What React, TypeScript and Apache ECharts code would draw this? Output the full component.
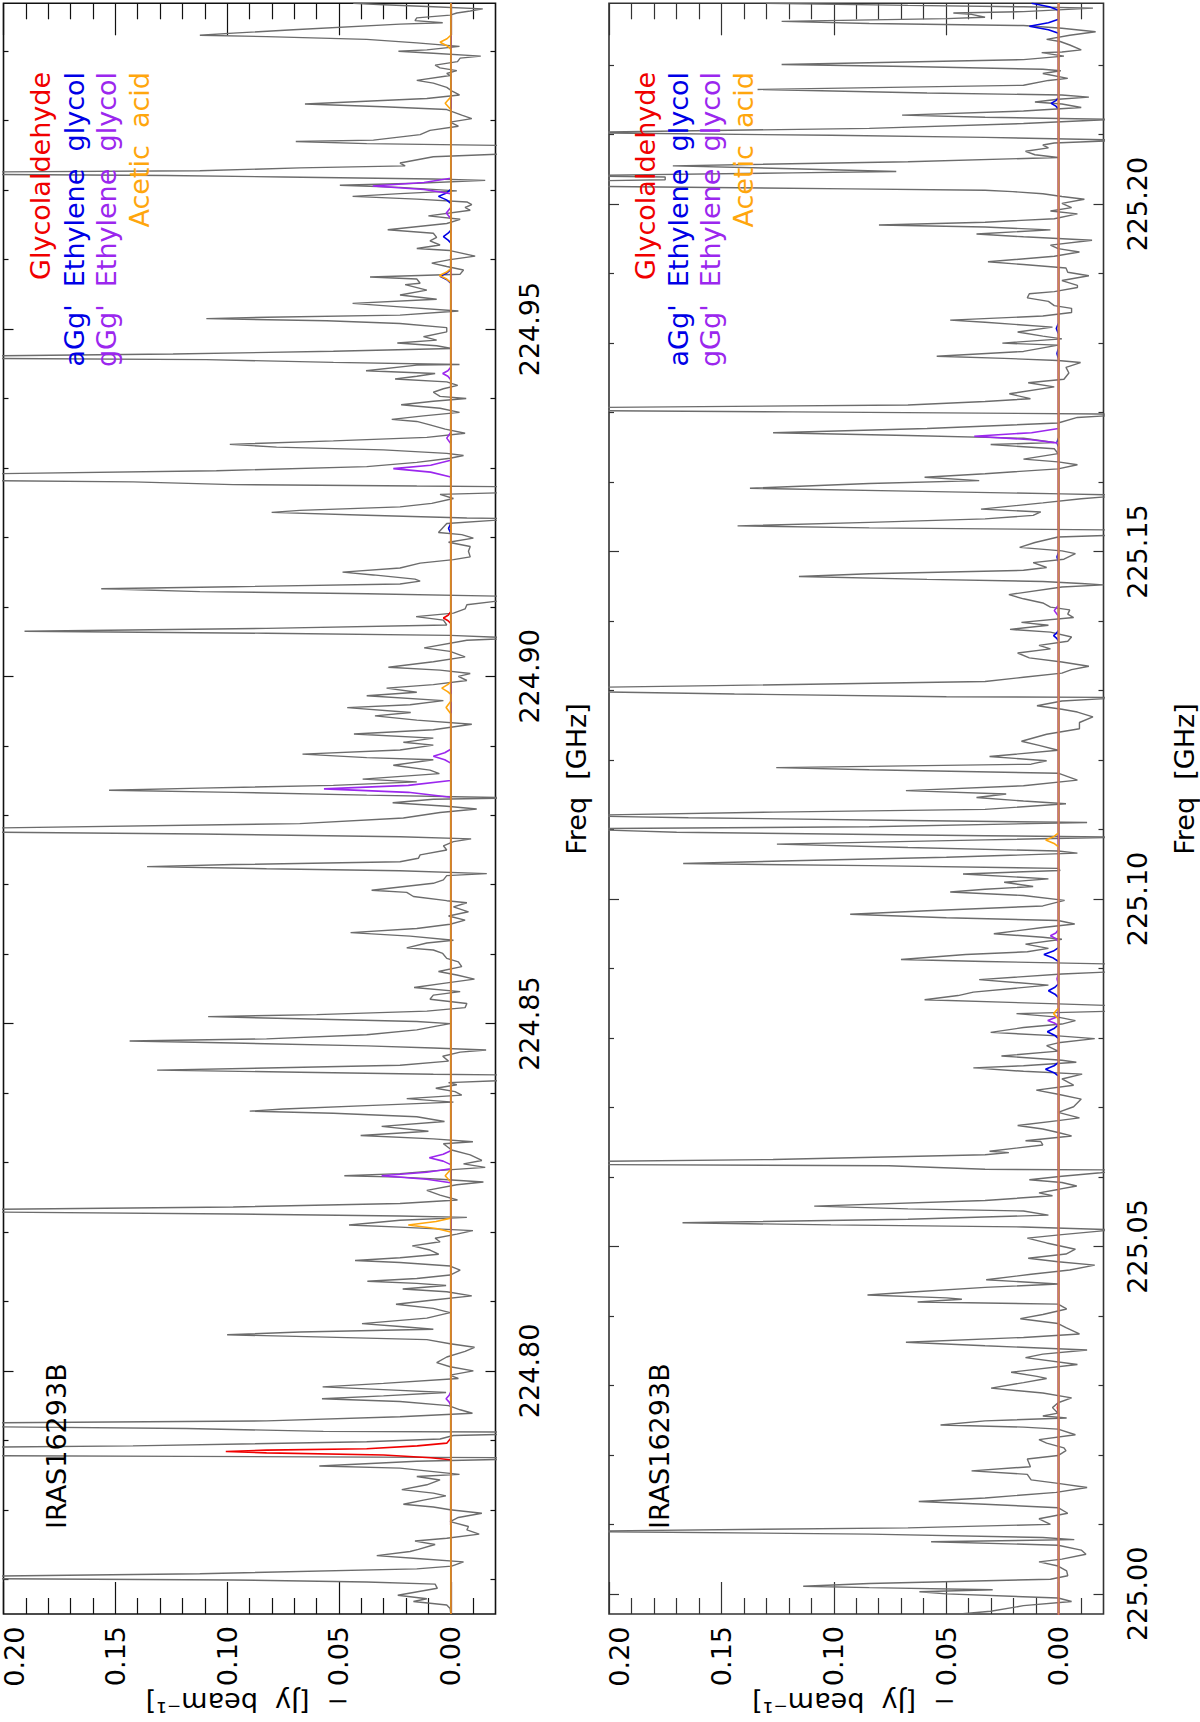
import React, { useEffect, useRef } from "react";
import * as echarts from "echarts";

// Frequencies in the spectra below are offsets in GHz from the panel's base frequency.
const baseA = 224;
const baseB = 225;
const rangeA = [224.765, 224.9969];
const rangeB = [224.9971, 225.2289];

const fluxMajor = [0, 0.05, 0.1, 0.15, 0.2];
const fluxLabels = [0, 0.05, 0.1, 0.15];
const fluxMinor = [-0.01, 0.01, 0.02, 0.03, 0.04, 0.06, 0.07, 0.08, 0.09, 0.11, 0.12, 0.13, 0.14, 0.16, 0.17, 0.18, 0.19];
const freqMajorA = [224.8, 224.85, 224.9, 224.95];
const freqMinorA = [224.77, 224.78, 224.79, 224.81, 224.82, 224.83, 224.84, 224.86, 224.87, 224.88, 224.89, 224.91, 224.92, 224.93, 224.94, 224.96, 224.97, 224.98, 224.99];
const freqMajorB = [225.0, 225.05, 225.1, 225.15, 225.2];
const freqMinorB = [225.01, 225.02, 225.03, 225.04, 225.06, 225.07, 225.08, 225.09, 225.11, 225.12, 225.13, 225.14, 225.16, 225.17, 225.18, 225.19, 225.21, 225.22];

const spectrumA = [
[.9969,.0436],[.9967,.03],[.9964,.0078],[.9961,-.0143],[.9958,-.0087],[.9955,-.0027],[.9952,.0003],[.9948,.0152],[.9944,.016],[.9941,.0036],[.9939,.0227],[.9931,.0704],[.9926,.0973],[.9923,.1122],[.9921,.0824],[.9917,.0376],[.9912,.0152],[.9907,-.0039],[.9902,.0107],[.99,.0234],[.9897,.0078],[.9893,-.0134],[.989,-.0042],[.9885,-.003],[.988,.007],[.9876,.0048],[.9872,-.0027],[.9868,.0018],[.9865,.0003],[.9858,.0152],[.9854,.0078],[.9848,.0018],[.9843,-.0004],[.9837,-.0039],[.9832,.0107],[.9824,.0652],[.982,.0301],[.9816,.0018],[.9808,-.0049],[.9803,-.0094],[.9798,.0003],[.9792,-.0034],[.9786,.0093],[.978,.0137],[.9772,.0346],[.977,.0693],[.9767,.0376],[.9764,-.03],[.9753,-.03],[.9748,.0078],[.9739,.0227],[.9735,.0204],[.9732,.0675],[.9728,.1122],[.9726,.22],[.9723,.22],[.9721,.127],[.9719,.0749],[.9716,.0078],[.9714,-.0154],[.971,.0152],[.9707,.0496],[.9704,.0227],[.9699,-.0027],[.9695,.0227],[.9691,.0439],[.9687,.0152],[.9683,-.0072],[.9679,-.0094],[.9675,-.0064],[.9671,-.0087],[.9663,.01],[.9658,-.0042],[.9652,.0018],[.9643,.0282],[.9638,.0078],[.9632,.0063],[.9627,.0093],[.9621,.0048],[.9616,.0152],[.9613,.0003],[.9605,-.0109],[.96,.0003],[.9595,.0085],[.959,.0018],[.9585,-.0057],[.9579,-.0042],[.9575,.0361],[.9572,.0152],[.9566,.0137],[.9564,.0204],
[.9556,.0107],[.9549,.0227],[.9543,.0063],[.9537,.0439],[.9532,.0227],[.9526,-.0034],[.952,.0227],[.9517,.0824],[.9515,.1093],[.9512,.0555],[.9508,.0227],[.9502,.0018],[.9496,.0018],[.9489,.0122],[.9484,.0063],[.948,.0239],[.9476,.0063],[.9472,-.0004],[.9468,.0525],[.9464,.1242],[.9461,.22],[.9458,.22],[.9456,.1093],[.9452,.0525],[.9449,-.0039],[.9448,.0152],[.944,.0379],[.9436,.007],[.9432,.0152],[.9428,.0249],[.9424,.0018],[.9419,-.0031],[.9414,.0033],[.9409,.0078],[.9403,.0048],[.94,-.0069],[.9396,.0078],[.9391,.0222],[.9386,.0048],[.938,-.0039],[.9375,.0122],[.937,.0264],[.9367,.0152],[.9362,.0093],[.9356,.0025],[.935,-.0064],[.9344,.0107],[.9339,.0525],[.9334,.0988],[.933,.0779],[.9326,.0301],[.9321,.0018],[.9318,-.0057],[.9314,.0003],[.9308,.0152],[.9302,.0376],[.9296,.1048],[.9291,.22],[.9282,.22],[.928,.1421],[.9276,.0973],[.9274,.0152],[.9273,-.03],[.9265,-.03],[.9262,.0048],[.9256,-.0012],[.9249,.0085],[.9244,.0227],[.9239,.0675],[.9236,.0801],[.9232,.0376],[.9228,-.0072],[.9227,-.03],[.922,.0018],[.9207,.0055],[.9204,-.0049],[.9199,-.0101],[.9193,.001],[.9187,-.0087],[.918,-.0079],[.9172,-.0087],[.9168,-.0012],[.9163,.0137],[.9156,.0227],
[.915,.0484],[.9146,.0346],[.914,.016],[.9137,.0137],[.9133,.0227],[.9129,.0973],[.9126,.1563],[.9122,.1122],[.9119,.0376],[.9115,-.03],[.9112,-.03],[.9103,-.0072],[.9097,-.0064],[.9091,-.0012],[.9086,.0155],[.9081,.0033],[.9074,.0018],[.9069,.0824],[.9065,.1906],[.9062,.0824],[.9059,.0003],[.9055,-.03],[.9052,-.0072],[.9041,.0119],[.9036,.0003],[.9028,-.0064],[.9021,.0078],[.9013,.0279],[.9009,.0048],[.9004,-.0087],[.9,-.0034],[.8994,-.0072],[.8988,.0078],[.8983,.0287],[.8977,.0152],[.8972,.0376],[.8965,.0033],[.8959,.0182],[.8955,.0463],[.8948,.0179],[.8943,.0339],[.8937,.0152],[.8931,-.0094],[.8923,.0078],[.8917,.0433],[.8911,.0078],[.8905,.0212],[.8901,.0078],[.8894,.0227],[.8888,.0663],[.8883,.0376],[.888,.0078],[.8872,.0257],[.8865,.0093],[.886,.0051],[.8852,.0394],[.8848,.0152],[.8843,.0525],[.8839,.1122],[.8836,.1528],[.8833,.0973],[.8829,.0376],[.8825,-.03],[.8823,.0078],[.8818,.026],[.8813,.0018],[.8809,-.0116],[.8804,.0048],[.8796,.0212],[.8788,.0675],[.8781,.22],[.8776,.22],[.8773,.1122],[.8769,.0227],[.8766,-.0091],[.8762,-.0012],[.8756,.0033],[.875,.0018],[.8743,.0137],
[.8738,.0145],[.8733,.0227],[.8729,.0973],[.8726,.1358],[.8723,.0824],[.872,.0227],[.8716,-.0161],[.8713,.0018],[.8707,.0033],[.8702,.0078],[.8692,.0354],[.8689,.0197],[.8683,.0167],[.8677,.0018],[.8674,-.0072],[.8668,-.0012],[.8661,-.0079],[.8655,.001],[.8649,-.0064],[.8643,.0003],[.8637,.0152],[.8631,.0448],[.8626,.0182],[.862,-.0012],[.8616,.0107],[.8609,.0197],[.8606,.0078],[.8601,.0036],[.8594,.0018],[.8589,-.0034],[.8582,-.0049],[.8575,.0055],[.857,-.0027],[.8564,-.0106],[.8558,.0033],[.8552,.0164],[.8546,-.0042],[.8541,.0078],[.8535,.0093],[.8529,-.0072],[.8523,-.0064],[.8518,.0107],[.8513,.06],[.851,.1085],[.8507,.0675],[.8503,.0152],[.85,.0003],[.8496,.007],[.8491,.0152],[.8484,.0376],[.8478,.0824],[.8475,.1436],[.8472,.0973],[.8468,.0376],[.8465,.0078],[.8462,-.0158],[.8459,-.0042],[.8453,.0036],[.8446,.001],[.844,.0227],[.8436,.0824],[.8433,.1313],[.843,.0675],[.8427,.0078],[.8426,-.03],[.8419,-.03],[.8415,.001],[.8412,-.0027],[.8407,.0067],[.8402,-.0019],[.8397,-.0049],[.8392,.0197],[.8387,-.0012],[.8382,.0376],[.8377,.0749],[.8374,.0899],[.8371,.0525],[.8366,.0152],[.8359,.0028],[.8352,.0309],[.8345,.01],[.8339,.0403],[.8334,.0078],[.833,-.0099],
[.8327,.0033],[.8318,-.0004],[.8311,-.0087],[.8303,-.0139],[.8298,-.0057],[.8293,-.0154],[.8288,.0078],[.8284,.0227],[.8281,.0476],[.8279,.0227],[.8276,.0048],[.8272,-.0146],[.8268,-.0027],[.826,.0107],[.8253,.0048],[.8246,-.003],[.8241,.0227],[.8236,.0973],[.8232,.22],[.8229,.22],[.8226,.0973],[.8223,.0227],[.8221,-.0072],[.8217,.0227],[.821,.0455],[.8207,.0227],[.8202,-.0099],[.8197,-.0027],[.8191,.007],[.8186,.0048],[.818,.0172],[.8174,.0093],[.8168,.0054],[.8163,.0227],[.8159,.0428],[.8156,.0227],[.8151,.0003],[.8145,-.0042],[.8138,.0003],[.8133,.0152],[.8129,.0373],[.8126,.0152],[.8123,.0021],[.8118,.0215],[.8114,.0018],[.8108,-.0094],[.8102,.0078],[.8096,.0245],[.809,.0078],[.8084,.0003],[.8076,.0107],[.8068,.0397],[.8064,.0227],[.806,.0078],[.8056,.0675],[.8052,.1],[.8049,.06],[.8045,.0107],[.8039,.0003],[.8034,-.0106],[.8028,-.0064],[.802,.0018],[.8012,.0063],[.8006,.0003],[.8,-.0101],[.7994,.0003],[.7989,-.0034],[.7982,.0301],[.7977,.0573],[.7972,.0227],[.7969,.0021],[.7964,.0301],[.796,.0576],[.7956,.0227],[.795,.001],[.7944,-.0042],[.7939,-.0097],[.7934,.0227],[.7928,.0824],[.7925,.22],
[.792,.22],[.7917,.1182],[.7913,.057],[.7912,-.03],[.7909,-.03],[.7907,-.0012],[.7902,.0048],[.7898,.0376],[.7892,.1421],[.789,.22],[.7878,.22],[.7877,.1182],[.7875,-.03],[.7873,-.03],[.787,.0152],[.7863,.0588],[.786,.0227],[.7851,-.0039],[.7848,.0152],[.7843,.0048],[.7836,.0107],[.7829,.0219],[.7824,.0078],[.782,.0022],[.7814,.0122],[.7808,.0212],[.7804,.0078],[.78,.0003],[.7795,-.0139],[.7789,-.0034],[.7783,.0003],[.7776,-.0079],[.7771,-.0072],[.7765,-.0127],[.7759,.0018],[.7755,.016],[.775,.007],[.7743,.0145],[.774,.0182],[.7734,.0331],[.773,.0152],[.7725,-.0057],[.7719,-.0004],[.7715,.0152],[.7708,.1122],[.7704,.22],[.7701,.22],[.7699,.0973],[.7696,.0376],[.7693,.007],[.7687,.006],[.7677,.0237],[.7672,.0107],[.7668,.0167],[.7663,.0018],[.7658,.0003],[.7651,0],
];

const spectrumB = [
[.2289,.1301],[.2286,.067],[.2284,.0156],[.2282,-.0153],[.2277,.0156],[.2275,.0468],[.2273,.0387],[.2269,.0327],[.2267,.0499],[.2263,.1232],[.226,.0842],[.2257,.0156],[.2253,-.0015],[.2248,-.0165],[.2243,-.005],[.2237,.0053],[.2234,-.0007],[.2229,-.005],[.2222,-.0101],[.2219,-.0015],[.2218,.0075],[.2213,-.0024],[.2208,.0156],[.2201,.1232],[.2198,.067],[.2194,.007],[.2192,-.001],[.2188,.007],[.2181,-.0041],[.2178,.0045],[.2171,.0156],[.2165,.1339],[.216,.0585],[.2157,-.0015],[.2154,-.0135],[.2151,.0002],[.2147,.0105],[.2144,-.0015],[.2139,-.0101],[.2134,.0156],[.2128,.0696],[.2125,.0327],[.2122,-.025],[.2116,.0156],[.2109,.0842],[.2103,.22],[.2099,.1013],[.2096,.0327],[.2092,-.03],[.2088,.0019],[.2085,.007],[.2081,.0045],[.2076,.0147],[.2071,.0105],[.2067,.0002],[.2061,.067],[.2055,.1716],[.2051,.1184],[.2047,.0722],[.2045,.1184],[.2041,.22],[.2039,.175],[.2035,.175],[.2033,.22],[.2026,.22],[.2022,.0927],[.202,.0327],[.2018,.0204],[.2015,.007],[.2011,-.0015],[.2007,-.0115],[.2001,-.0015],[.1995,-.0058],[.199,.0036],[.1986,-.0084],[.1979,.0019],[.1974,.0327],[.197,.0799],[.1967,.0327],[.1963,.0036],[.1957,.0365],[.1953,.0156],[.1948,-.0149],[.1941,.0036],[.1936,.0002],[.1931,-.0093],[.1925,.0019],[.1917,.0314],[.1913,.0156],[.1908,-.0033],[.1902,-.0041],[.1897,-.0135],[.189,-.0015],[.1883,-.0084],
[.188,-.0084],[.1874,.0019],[.1871,.013],[.1865,.0139],[.186,.0045],[.1854,.0019],[.185,-.0058],[.1844,-.0058],[.1839,.007],[.1833,.0482],[.183,.0327],[.1823,.0027],[.1816,.0182],[.181,.007],[.1806,-.0015],[.18,.025],[.1797,.0002],[.1788,.0156],[.1781,.0542],[.1778,.0242],[.1775,.0002],[.1772,-.0098],[.1765,-.0033],[.1757,-.0046],[.1748,-.0024],[.1743,.0135],[.1737,.0019],[.1727,.0219],[.172,.0125],[.1716,.0327],[.1711,.067],[.1707,.22],[.1703,.22],[.1701,.1184],[.1698,-.0187],[.1697,-.03],[.1693,-.0084],[.1685,.0002],[.1677,.0585],[.1671,.127],[.1667,.067],[.1663,.0156],[.1657,.0019],[.1654,.0302],[.1648,.0019],[.1641,.0002],[.1633,.0156],[.1629,.0002],[.1625,-.0084],[.1619,.0002],[.1612,.0327],[.1607,.0596],[.1602,.0353],[.1598,.0842],[.1591,.1373],[.1587,.067],[.1583,-.0015],[.1581,-.03],[.1576,-.0101],[.157,.007],[.1561,.0345],[.1557,.0079],[.1552,.0113],[.1547,.0327],[.1542,.0842],[.1537,.1428],[.1534,.0842],[.1531,-.03],[.1524,-.03],[.1521,.0002],[.1513,.0105],[.1506,.0173],[.1501,-.0015],[.1497,-.0075],[.1489,-.0024],[.1484,.0113],[.1477,.0053],[.1473,.0156],[.1468,.0842],
[.1464,.1155],[.146,.0585],[.1457,.007],[.1454,-.0101],[.1452,-.02],[.1449,-.0015],[.1438,.0221],[.1432,.0156],[.1426,.007],[.142,.0036],[.1416,-.005],[.141,-.0041],[.1405,-.0067],[.1398,.0165],[.1394,.0045],[.1388,.0216],[.1384,.0036],[.1377,-.0058],[.1371,-.0041],[.1365,.0087],[.136,.0036],[.1354,.0182],[.1347,.013],[.1341,-.0015],[.1335,-.0135],[.133,-.0058],[.1325,-.0015],[.1319,.0156],[.1313,.0327],[.1307,.1527],[.1304,.22],[.1299,.22],[.1295,.1442],[.1291,.0499],[.129,-.03],[.1285,-.0015],[.1278,.0096],[.1273,-.0015],[.1269,-.0084],[.1262,-.0153],[.1254,-.0093],[.1245,-.0093],[.1237,.0053],[.1227,.0165],[.1221,.0087],[.1214,.0002],[.1205,.0307],[.1199,.0053],[.1194,.0122],[.1189,.1256],[.1186,.0842],[.1181,.0002],[.1176,-.0041],[.1171,-.0084],[.1163,.0156],[.1156,.0679],[.1151,.0233],[.1146,.0365],[.1141,.0156],[.1137,-.0033],[.1129,.0327],[.1125,.127],[.112,.22],[.1117,.1647],[.1113,.067],[.111,-.0127],[.1104,.0842],[.1101,.22],[.1096,.1699],[.1091,.0327],[.1089,-.03],[.1085,.0327],[.1079,.1253],[.1074,.067],[.1069,.0002],[.1066,-.0084],[.106,.0499],
[.1055,.1184],[.1051,.167],[.1048,.0842],[.1044,.0002],[.1041,-.0007],[.1036,.0425],[.1029,.0045],[.1024,.0242],[.1018,.0113],[.1014,.0327],[.101,.0482],[.1005,.0156],[.0998,-.0027],[.099,.007],[.0983,.0585],[.0978,.0927],[.0973,.0499],[.0969,.0002],[.0964,-.0072],[.0959,.007],[.095,.0288],[.0945,.007],[.0942,-.0015],[.0935,.0147],[.0929,.0045],[.0924,.0139],[.092,.0413],[.0913,.0701],[.091,.0327],[.0906,-.03],[.0896,-.03],[.0892,-.0015],[.0884,.0353],[.0876,.0045],[.0866,.0379],[.0861,.0447],[.0855,.0596],[.0849,.0002],[.0846,-.03],[.0839,-.03],[.0835,.0187],[.083,.0002],[.0825,-.0075],[.082,-.0015],[.0815,.0156],[.0808,.0302],[.0803,.0002],[.0799,-.0161],[.0793,.0002],[.0789,.0053],[.0781,.0002],[.0774,.0254],[.0768,-.0015],[.0765,-.0079],[.076,.0156],[.0757,.0379],[.0752,.0156],[.0748,-.0105],[.0741,-.0015],[.0732,-.0067],[.0725,.0099],[.0719,.0002],[.0712,-.0101],[.0701,-.0067],[.0693,.0002],[.0685,-.0093],[.0681,.0002],[.0674,.0182],[.0669,.007],[.0664,.0002],[.0659,-.0058],[.0652,.0147],
[.0651,.0079],[.0646,.007],[.0637,.0307],[.0635,.0221],[.0632,.0327],[.0625,.127],[.0622,.22],[.0618,.22],[.0616,.0756],[.0611,.0327],[.061,-.03],[.0606,-.0187],[.0601,-.0015],[.0596,.013],[.0592,-.0015],[.0587,-.0081],[.0582,.0002],[.0577,.0087],[.0573,.0027],[.0566,.0327],[.0558,.1087],[.0554,.067],[.0551,.0156],[.0545,.0045],[.0539,.067],[.0534,.1673],[.0531,.1013],[.0528,.0156],[.0524,-.025],[.0517,-.0015],[.0512,.0139],[.0505,.0053],[.0496,-.0075],[.0489,-.0033],[.0483,.0135],[.0478,.0002],[.0473,-.0161],[.0466,-.005],[.046,.0122],[.0452,.0322],[.0446,.0002],[.0441,.0327],[.0434,.067],[.043,.085],[.0426,.0499],[.0424,.043],[.042,.0627],[.0417,.0002],[.041,-.0036],[.0402,.007],[.0396,.017],[.0389,.0002],[.0383,-.0033],[.0374,-.0093],[.0369,.0156],[.0362,.0679],[.0357,.0327],[.0351,-.0127],[.0345,.007],[.034,.0147],[.033,-.0084],[.0319,.0211],[.0313,.0096],[.031,.0053],[.0304,.0156],[.0296,.03],[.0289,.007],[.0282,-.0058],[.0275,.0002],[.0268,.0027],[.026,.0002],[.0256,.007],[.0253,-.0036],[.0249,.0327],[.0243,.0525],
[.024,.0156],[.0237,.0002],[.0229,-.0075],[.0222,.0087],[.0217,.0053],[.021,-.0024],[.0206,-.0033],[.0199,.0002],[.0194,.0139],[.0183,.0125],[.0177,.0387],[.0172,.0139],[.0164,.0122],[.0159,.0002],[.0153,-.0127],[.0146,.001],[.0138,.0327],[.0133,.0622],[.0129,.0327],[.0124,.0002],[.0116,-.0041],[.0108,.0087],[.01,.0036],[.0095,.067],[.009,.22],[.0086,.0842],[.0081,.007],[.0078,-.007],[.0075,.0567],[.007,.0002],[.0063,-.0101],[.0057,-.0122],[.005,-.0015],[.0046,.0087],[.004,.0002],[.0033,-.0036],[.0026,-.0041],[.0021,.0036],[.0015,.0842],[.0011,.1136],[.0009,.0842],[.0006,.0293],[.0003,.0619],[0,.0499],[-.0006,.0002],[-.0011,-.0058],[-.0017,.0156],[-.0025,.0302],[-.0029,.0439],
];

const glycolaldehydeA = [[.765,0],[.7872,0],[.7875,.009],[.7879,.03],[.7882,.0824],[.7884,.1006],[.7886,.0824],[.7888,.0376],[.7892,.015],[.7896,.0018],[.7903,0],[.9076,0],[.908,.0012],[.9084,.0033],[.9088,.0012],[.9093,0],[.9969,0]];
const aGgA = [[.765,0],[.9206,0],[.9213,.001],[.922,0],[.9566,0],[.9571,.0017],[.9576,.0048],[.9581,.0017],[.9586,0],[.9624,0],[.9628,.0012],[.9633,.0033],[.9638,.0012],[.9642,0],[.9681,0],[.9686,.0019],[.9691,.0055],[.9696,.0019],[.9701,0],[.9969,0]];
const gGgA = [[.765,0],[.795,0],[.7955,.0007],[.796,.0021],[.7965,.0007],[.797,0],[.8271,0],[.8276,.0108],[.8281,.0309],[.8286,.0108],[.8291,0],[.8297,0],[.8302,.0034],[.8307,.0096],[.8312,.0034],[.8317,0],[.8826,0],[.8833,.019],[.8838,.0567],[.8843,.019],[.885,0],[.8875,0],[.888,.0027],[.8885,.0078],[.889,.0027],[.8895,0],[.9287,0],[.9294,.009],[.9299,.0257],[.9304,.009],[.9311,0],[.9335,0],[.9343,.0018],[.9351,0],[.9427,0],[.9432,.0013],[.9436,.0036],[.944,.0013],[.9445,0],[.9659,0],[.9667,.002],[.9675,0],[.9695,0],[.9701,.012],[.9706,.0349],[.9711,.012],[.9717,0],[.9969,0]];
const aceticA = [[.765,0],[.82,0],[.8205,.0066],[.821,.019],[.8215,.0066],[.822,0],[.8272,0],[.8281,.0025],[.829,0],[.8946,0],[.8955,.0021],[.8964,0],[.8974,0],[.8978,.0014],[.8983,.004],[.8988,.0014],[.8992,0],[.9567,0],[.9572,.0018],[.9577,.0051],[.9582,.0018],[.9587,0],[.9816,0],[.9825,.0025],[.9834,0],[.9903,0],[.9908,.0017],[.9913,.0048],[.9918,.0017],[.9923,0],[.9969,0]];
const zeroLineA = [[.765,0],[.9969,0]];

const glycolaldehydeB = [[-.003,0],[.026,0],[.0268,.0005],[.0276,0],[.2289,0]];
const aGgB = [[-.003,0],[.0745,0],[.075,.002],[.0755,.0058],[.076,.002],[.0765,0],[.0799,0],[.0804,.0018],[.0809,.005],[.0814,.0018],[.0819,0],[.0858,0],[.0863,.0016],[.0868,.0045],[.0873,.0016],[.0878,0],[.091,0],[.0915,.0023],[.092,.0065],[.0925,.0023],[.093,0],[.1371,0],[.1375,.0008],[.1379,.0022],[.1383,.0008],[.1387,0],[.1485,0],[.1492,.0007],[.1499,0],[.165,0],[.1657,.0007],[.1664,0],[.1777,0],[.1785,.0007],[.1793,0],[.1813,0],[.1821,.001],[.1829,0],[.2137,0],[.2141,.0012],[.2145,.0033],[.2149,.0012],[.2153,0],[.2246,0],[.2251,.0045],[.2256,.013],[.2261,.0045],[.2266,0],[.2279,0],[.2284,.0042],[.2289,.012]];
const gGgB = [[-.003,0],[.0817,0],[.0821,.0016],[.0825,.0048],[.0829,.0016],[.0833,0],[.0877,0],[.0885,.0007],[.0893,0],[.0938,0],[.0943,.0012],[.0947,.0036],[.0951,.0012],[.0956,0],[.1407,0],[.1415,.0019],[.1423,0],[.1656,0],[.1661,.012],[.1666,.0375],[.1671,.012],[.1677,0],[.2289,0]];
const aceticB = [[-.003,0],[.0827,0],[.0835,.0022],[.0843,0],[.1075,0],[.108,.002],[.1085,.0057],[.109,.002],[.1095,0],[.2289,0]];
const zeroLineB = [[-.003,0],[.2289,0]];

const GRAY = "#6c6c6c";
const RED = "#f00000";
const BLUE = "#0000e6";
const PURPLE = "#9b27ee";
const ORANGE = "#ffa60d";
const FONT = "DejaVu Sans";
const FS = 27;

const toSeries = (pts: number[][], base: number) => pts.map((p) => [p[1], +(base + p[0]).toFixed(4)]);

function App() {
  const ref = useRef<HTMLDivElement>(null);
  useEffect(() => {
    const chart = echarts.init(ref.current!, undefined, { renderer: "svg" });

    const panels = [
      { left: 3.5, right: 495.5, ink: "#111111", zeroColor: "#d38a1f", range: rangeA, base: baseA, major: freqMajorA, minor: freqMinorA, sets: [spectrumA, glycolaldehydeA, aGgA, gGgA, aceticA, zeroLineA], legendX: [54, 87.5, 120, 152.5], irasX: 70, freqTitleX: 576, zeroLabelX: 14, fluxTitleX: 247.5 },
      { left: 609, right: 1103.5, ink: "#333333", zeroColor: "#c98a50", range: rangeB, base: baseB, major: freqMajorB, minor: freqMinorB, sets: [spectrumB, glycolaldehydeB, aGgB, gGgB, aceticB, zeroLineB], legendX: [659, 691.5, 724, 756.5], irasX: 673, freqTitleX: 1184, zeroLabelX: 619, fluxTitleX: 854 },
    ];
    const TOP = 3.3;
    const BOTTOM = 1614;

    const grid: any[] = [];
    const xAxis: any[] = [];
    const yAxis: any[] = [];
    const series: any[] = [];
    const graphic: any[] = [];

    panels.forEach((p, g) => {
      const tickStyle = { color: p.ink, width: 1.2 };
      grid.push({ left: p.left, width: p.right - p.left, top: TOP, height: BOTTOM - TOP, show: true, borderColor: p.ink, borderWidth: 1.6, backgroundColor: "transparent", containLabel: false });
      const xBase = { gridIndex: g, type: "value", min: -0.02, max: 0.2, inverse: true, splitLine: { show: false }, axisLine: { show: false, onZero: false }, axisLabel: { show: false } };
      const yBase = { gridIndex: g, type: "value", min: p.range[0], max: p.range[1], splitLine: { show: false }, axisLine: { show: false, onZero: false }, axisLabel: { show: false } };
      const xStart = xAxis.length;
      const yStart = yAxis.length;
      xAxis.push({
        ...xBase, position: "bottom",
        axisTick: { show: true, inside: true, length: 32, customValues: fluxMajor, lineStyle: tickStyle },
        axisLabel: { show: true, rotate: 90, margin: 12, customValues: fluxLabels, formatter: (v: number) => v.toFixed(2), fontFamily: FONT, fontSize: FS, color: "#000" },
      });
      xAxis.push({ ...xBase, position: "top", axisTick: { show: true, inside: true, length: 32, customValues: fluxMajor, lineStyle: tickStyle } });
      xAxis.push({ ...xBase, position: "bottom", axisTick: { show: true, inside: true, length: 16, customValues: fluxMinor, lineStyle: tickStyle } });
      xAxis.push({ ...xBase, position: "top", axisTick: { show: true, inside: true, length: 16, customValues: fluxMinor, lineStyle: tickStyle } });
      yAxis.push({
        ...yBase, position: "right",
        axisTick: { show: true, inside: true, length: 10, customValues: p.major, lineStyle: tickStyle },
        axisLabel: { show: true, rotate: 90, margin: 20, customValues: p.major, formatter: (v: number) => v.toFixed(2), fontFamily: FONT, fontSize: FS, color: "#000" },
      });
      yAxis.push({ ...yBase, position: "left", axisTick: { show: true, inside: true, length: 10, customValues: p.major, lineStyle: tickStyle } });
      yAxis.push({ ...yBase, position: "right", axisTick: { show: true, inside: true, length: 5, customValues: p.minor, lineStyle: tickStyle } });
      yAxis.push({ ...yBase, position: "left", axisTick: { show: true, inside: true, length: 5, customValues: p.minor, lineStyle: tickStyle } });

      const colors = [GRAY, RED, BLUE, PURPLE, ORANGE, p.zeroColor];
      const names = ["Spectrum", "Glycolaldehyde", "aGg' Ethylene glycol", "gGg' Ethylene glycol", "Acetic acid", "Zero level"];
      p.sets.forEach((pts, i) => {
        series.push({
          type: "line", name: names[i], xAxisIndex: xStart, yAxisIndex: yStart,
          data: toSeries(pts, p.base), showSymbol: false, symbol: "none", silent: true,
          lineStyle: { color: colors[i], width: i === 0 ? 1.4 : 1.6 }, z: 2 + i,
        });
      });

      const legendTexts = ["Glycolaldehyde", "aGg'  Ethylene  glycol", "gGg'  Ethylene  glycol", "Acetic  acid"];
      legendTexts.forEach((t, i) => {
        graphic.push({
          type: "text", x: p.legendX[i], y: 72, rotation: Math.PI / 2, z: 10,
          style: { text: t, fill: colors[i + 1], font: `${FS}px "${FONT}"`, textAlign: "right", textVerticalAlign: "bottom" },
        });
      });
      graphic.push({
        type: "text", x: p.irasX, y: 1529, rotation: Math.PI / 2, z: 10,
        style: { text: "IRAS16293B", fill: "#000", font: `${FS}px "${FONT}"`, textAlign: "left", textVerticalAlign: "bottom" },
      });
      graphic.push({
        type: "text", x: p.freqTitleX, y: 779, rotation: Math.PI / 2, z: 10,
        style: { text: "Freq  [GHz]", fill: "#000", font: `${FS}px "${FONT}"`, textAlign: "center", textVerticalAlign: "middle" },
      });
      graphic.push({
        type: "text", x: p.zeroLabelX, y: 1626.5, rotation: Math.PI / 2, z: 10,
        style: { text: "0.20", fill: "#000", font: `${FS}px "${FONT}"`, textAlign: "right", textVerticalAlign: "middle" },
      });
      graphic.push({
        type: "text", x: p.fluxTitleX, y: 1702, rotation: Math.PI, z: 10,
        style: { text: "−  [Jy  beam⁻¹]", fill: "#000", font: `${FS}px "${FONT}"`, textAlign: "center", textVerticalAlign: "middle" },
      });
    });

    chart.setOption({ animation: false, backgroundColor: "#fff", grid, xAxis, yAxis, series, graphic: { elements: graphic } });
    return () => chart.dispose();
  }, []);
  return <div ref={ref} style={{ position: "absolute", left: 0, top: 0, width: 1200, height: 1722 }} />;
}

export default App;
